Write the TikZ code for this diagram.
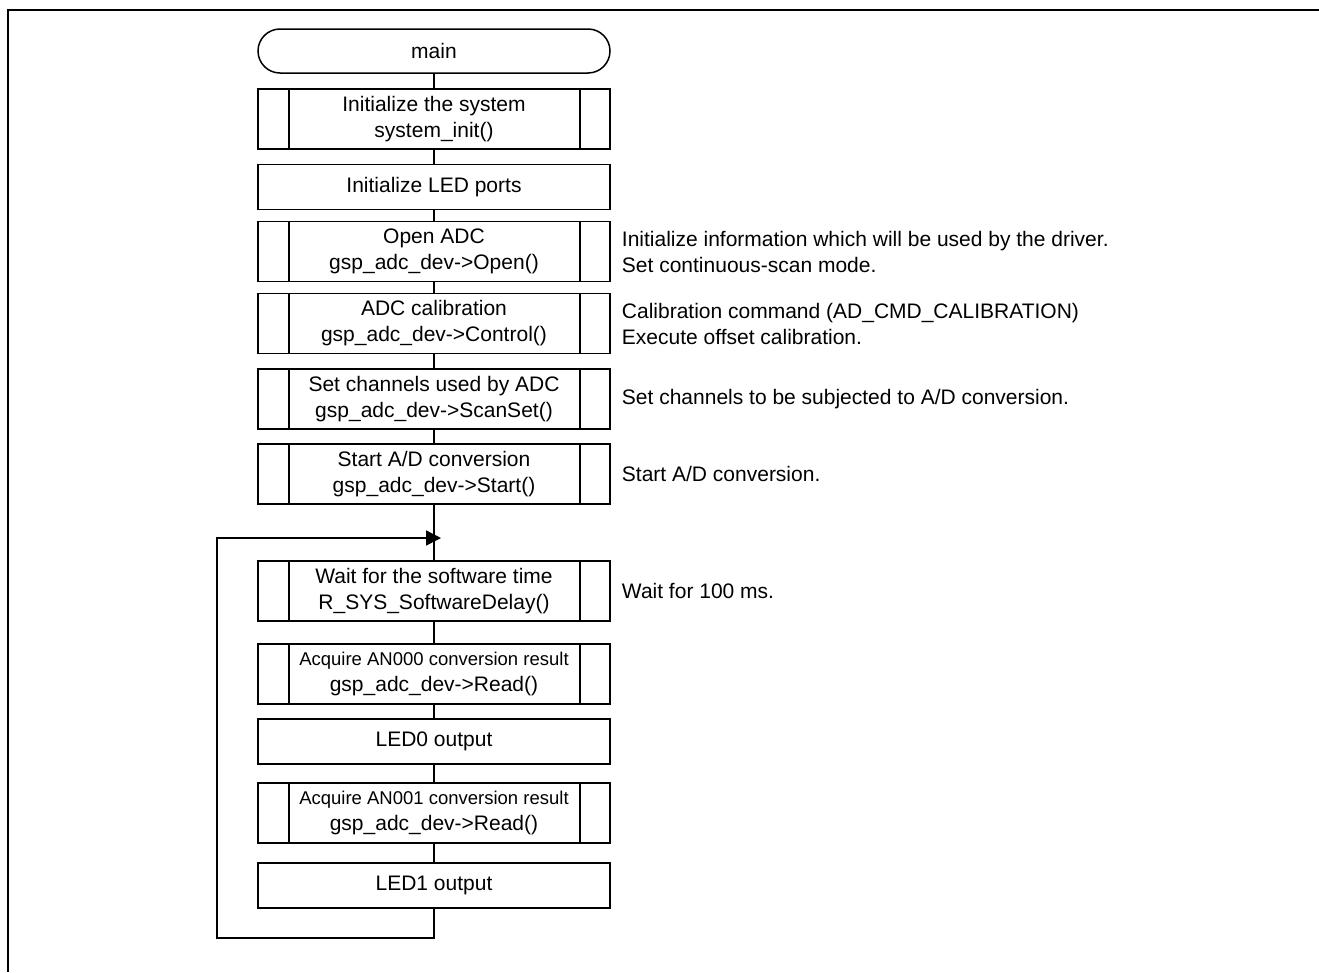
\documentclass[tikz,border=0pt]{standalone}
\usepackage{fontspec}
\setmainfont{Liberation Sans}
\usetikzlibrary{arrows.meta,calc}
\begin{document}
\begin{tikzpicture}[x=1pt,y=-1pt,
  every node/.style={font=\fontsize{21}{26}\selectfont},
  proc/.style={draw,line width=1.5pt,rectangle,minimum width=352pt,minimum height=60pt,inner sep=2pt,align=center},
  proc1/.style={proc,minimum height=45pt},
  sub/.style={proc,path picture={
     \draw[line width=1.5pt] ([xshift=31pt]path picture bounding box.north west) -- ([xshift=31pt]path picture bounding box.south west);
     \draw[line width=1.5pt] ([xshift=-30pt]path picture bounding box.north east) -- ([xshift=-30pt]path picture bounding box.south east);}},
  term/.style={draw,line width=1.5pt,rounded corners=22pt,minimum width=352pt,minimum height=44pt,inner sep=2pt},
  note/.style={anchor=west,align=left,inner sep=0pt,xshift=11pt},
  conn/.style={line width=1.5pt}]
\useasboundingbox (0,0) rectangle (1319,972);
\draw[line width=2.8pt] (8,972) -- (8,10) -- (1319,10);

\node[term] (main) at (434,51) {main};
\node[sub] (sys) at (434,119) {Initialize the system\\system\_init()};
\node[proc1] (led) at (434,187) {Initialize LED ports};
\node[sub] (open) at (434,251.5) {Open ADC\\gsp\_adc\_dev->Open()};
\node[sub] (cal) at (434,323.5) {ADC calibration\\gsp\_adc\_dev->Control()};
\node[sub] (scan) at (434,399) {Set channels used by ADC\\gsp\_adc\_dev->ScanSet()};
\node[sub] (start) at (434,474) {Start A/D conversion\\gsp\_adc\_dev->Start()};
\node[sub] (wait) at (434,591) {Wait for the software time\\R\_SYS\_SoftwareDelay()};
\node[sub] (an0) at (434,674) {{\fontsize{18.5}{22}\selectfont Acquire AN000 conversion result}\\gsp\_adc\_dev->Read()};
\node[proc1] (led0) at (434,741.5) {LED0 output};
\node[sub] (an1) at (434,813) {{\fontsize{18.5}{22}\selectfont Acquire AN001 conversion result}\\gsp\_adc\_dev->Read()};
\node[proc1] (led1) at (434,885.5) {LED1 output};

\node[note] (nopen) at (open.east) {Initialize information which will be used by the driver.\\Set continuous-scan mode.};
\node[note] (ncal) at (cal.east) {Calibration command (AD\_CMD\_CALIBRATION)\\Execute offset calibration.};
\node[note] (nscan) at (scan.east) {Set channels to be subjected to A/D conversion.};
\node[note] (nstart) at (start.east) {Start A/D conversion.};
\node[note] (nwait) at (wait.east) {Wait for 100 ms.};

\coordinate (j) at (441,538);
\coordinate (b) at (217,938);

\draw[conn] (main) -- (sys);
\draw[conn] (sys) -- (led);
\draw[conn] (led) -- (open);
\draw[conn] (open) -- (cal);
\draw[conn] (cal) -- (scan);
\draw[conn] (scan) -- (start);
\draw[conn] (start) -- (wait);
\draw[conn] (wait) -- (an0);
\draw[conn] (an0) -- (led0);
\draw[conn] (led0) -- (an1);
\draw[conn] (an1) -- (led1);
\draw[conn,-{Triangle[length=15pt,width=15pt]}] (led1.south) |- (b) |- (j);
\end{tikzpicture}
\end{document}
